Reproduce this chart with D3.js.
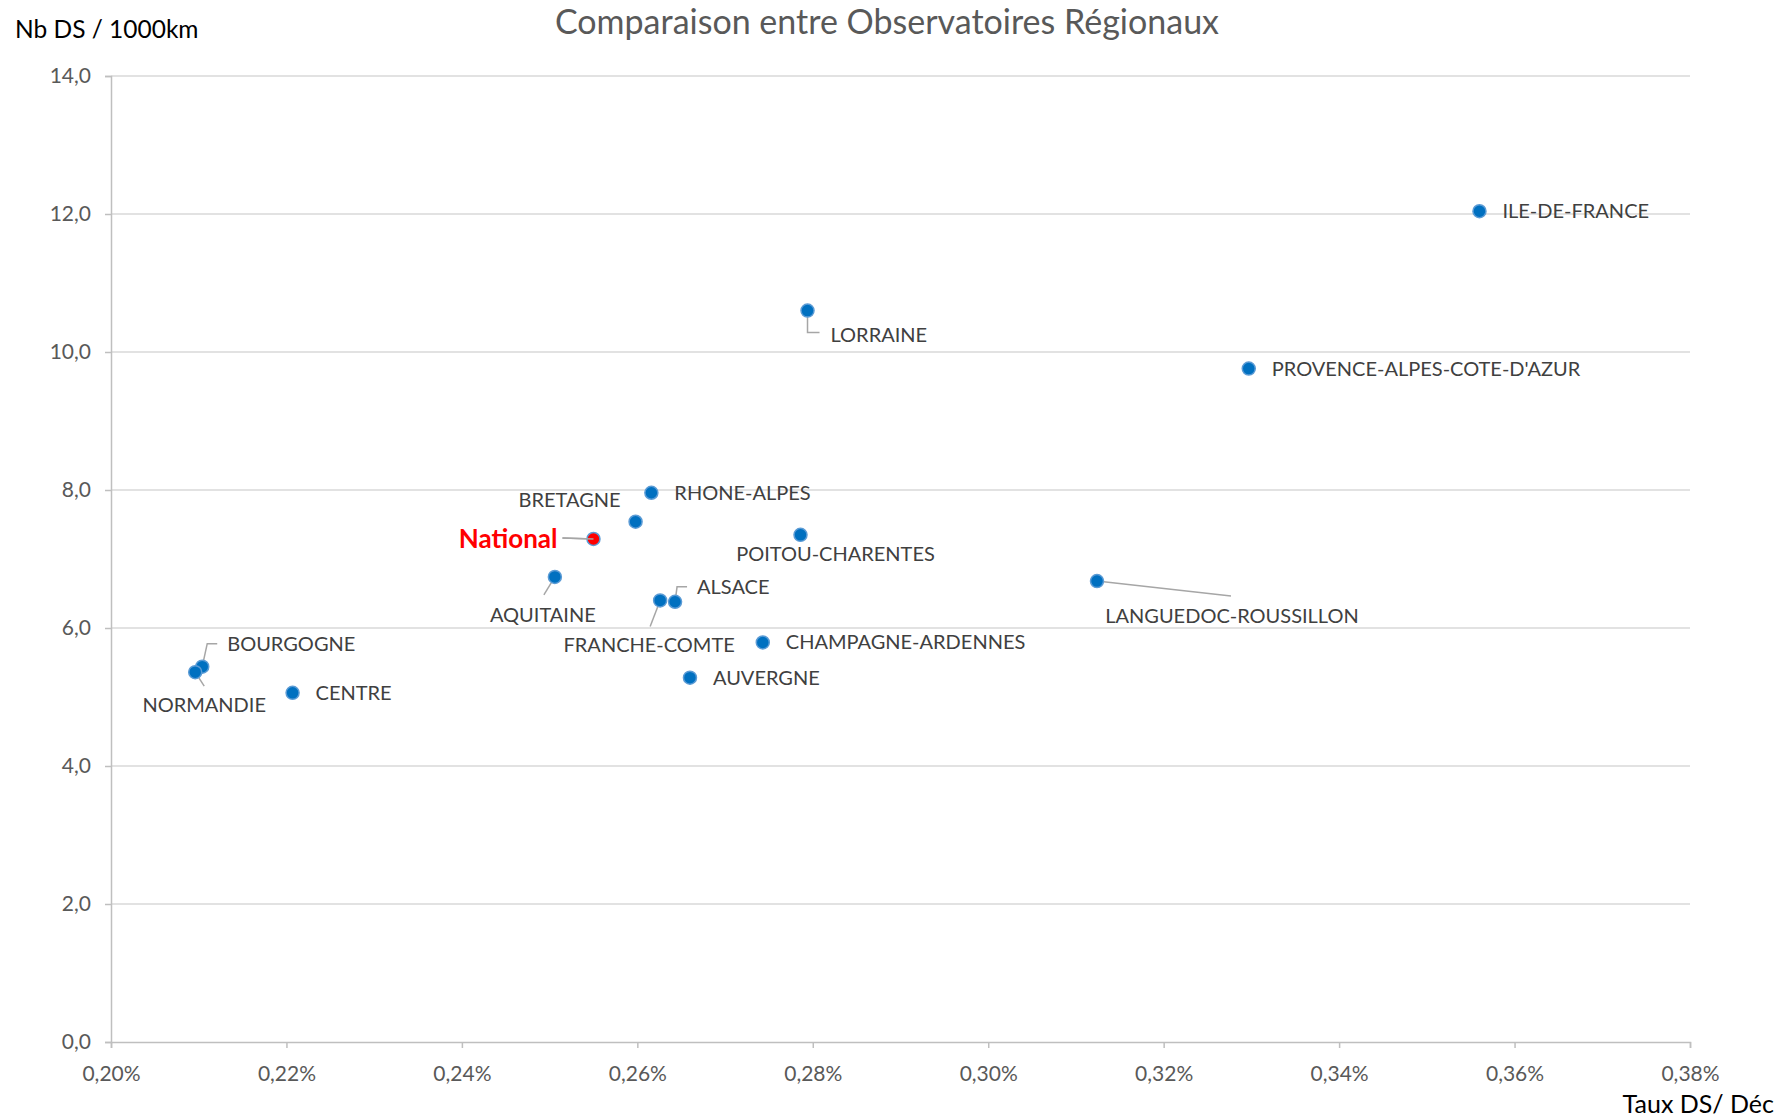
<!DOCTYPE html>
<html>
<head>
<meta charset="utf-8">
<script src="https://cdn.jsdelivr.net/npm/d3@7"></script>
<style>
  body { margin: 0; background: #fff; }
  svg { display: block; font-family: Lato, "Open Sans", sans-serif; }
</style>
</head>
<body>
<svg id="chart" width="1783" height="1117"></svg>
<script>
// data (x = taux en %, y = nb DS / 1000km)
var regions = ["ILE-DE-FRANCE", "LORRAINE", "PROVENCE-ALPES-COTE-D'AZUR", "RHONE-ALPES", "BRETAGNE",
  "National", "POITOU-CHARENTES", "AQUITAINE", "FRANCHE-COMTE", "ALSACE", "LANGUEDOC-ROUSSILLON",
  "CHAMPAGNE-ARDENNES", "AUVERGNE", "BOURGOGNE", "NORMANDIE", "CENTRE"];
var tauxDS = [0.3560, 0.2794, 0.3297, 0.2616, 0.2598, 0.2550, 0.2786, 0.2506, 0.2626, 0.2643, 0.3124,
  0.2743, 0.2660, 0.2104, 0.2096, 0.2207];
var nbDS = [12.04, 10.60, 9.76, 7.96, 7.54, 7.29, 7.35, 6.74, 6.40, 6.38, 6.68, 5.79, 5.28, 5.44, 5.36, 5.06];
var xTicks = [0.20, 0.22, 0.24, 0.26, 0.28, 0.30, 0.32, 0.34, 0.36, 0.38];
var yTicks = [0, 2, 4, 6, 8, 10, 12, 14];

// label placement (pixels, relative to the point)
var labelPos = {
  "LORRAINE": { dx: 23, dy: 24, anchor: "start", leader: [[0, 0], [0, 22], [12, 22]] },
  "BRETAGNE": { dx: -15, dy: -22, anchor: "end" },
  "National": { dx: -36, dy: 0, anchor: "end", leader: [[-31, -1], [0, 0]] },
  "POITOU-CHARENTES": { dx: 35, dy: 19, anchor: "middle" },
  "AQUITAINE": { dx: -12, dy: 38, anchor: "middle", leader: [[0, 0], [-11, 18]] },
  "FRANCHE-COMTE": { dx: -11, dy: 45, anchor: "middle", leader: [[0, 0], [-10, 26]] },
  "ALSACE": { dx: 22, dy: -15, anchor: "start", leader: [[0, 0], [2, -15], [12, -15]] },
  "LANGUEDOC-ROUSSILLON": { dx: 135, dy: 35, anchor: "middle", leader: [[0, 0], [134, 15]] },
  "BOURGOGNE": { dx: 25, dy: -23, anchor: "start", leader: [[0, 0], [5, -23], [15, -23]] },
  "NORMANDIE": { dx: 9, dy: 33, anchor: "middle", leader: [[0, 0], [9, 14]] }
};

var svg = d3.select("#chart");
var margin = { top: 76, left: 111, right: 93, bottom: 75 };
var width = 1783 - margin.left - margin.right,
    height = 1117 - margin.top - margin.bottom;

var x = d3.scaleLinear().domain([0.20, 0.38]).range([0, width]);
var y = d3.scaleLinear().domain([0, 14]).range([height, 0]);

var g = svg.append("g").attr("transform", "translate(" + margin.left + "," + margin.top + ")");

// gridlines
g.selectAll(".grid").data(yTicks.slice(1)).enter().append("line")
    .attr("x1", 0).attr("x2", width)
    .attr("y1", y).attr("y2", y)
    .attr("stroke", "#d9d9d9").attr("stroke-width", 1.5);

var fr = d3.formatLocale({ decimal: ",", thousands: " ", grouping: [3], currency: ["", "€"] });
var fmtY = fr.format(".1f");
var fmtX = function(d) { return fr.format(".2f")(d) + "%"; };

var xAxis = g.append("g").attr("transform", "translate(0," + height + ")")
    .call(d3.axisBottom(x).tickValues(xTicks).tickFormat(fmtX).tickSize(6).tickPadding(11));
var yAxis = g.append("g")
    .call(d3.axisLeft(y).tickValues(yTicks).tickFormat(fmtY).tickSize(6).tickPadding(14));

[xAxis, yAxis].forEach(function(a) {
  a.select(".domain").attr("stroke", "#bfbfbf").attr("stroke-width", 1.5);
  a.selectAll(".tick line").attr("stroke", "#bfbfbf").attr("stroke-width", 1.5);
  a.selectAll(".tick text").attr("fill", "#595959").style("font-size", "21px").style("font-family", "Lato, sans-serif");
});
xAxis.selectAll(".tick text").attr("dy", "1.05em");

var pts = regions.map(function(r, i) { return { name: r, x: tauxDS[i], y: nbDS[i] }; });

// leader lines
pts.forEach(function(p) {
  var lp = labelPos[p.name];
  if (lp && lp.leader) {
    g.append("path")
        .attr("d", d3.line()(lp.leader.map(function(c) { return [x(p.x) + c[0], y(p.y) + c[1]]; })))
        .attr("fill", "none").attr("stroke", "#a6a6a6").attr("stroke-width", 1.5);
  }
});

// points
g.selectAll(".pt").data(pts).enter().append("circle")
    .attr("cx", function(d) { return x(d.x); })
    .attr("cy", function(d) { return y(d.y); })
    .attr("r", 6.5)
    .attr("fill", function(d) { return d.name == "National" ? "#ff0000" : "#0070c0"; })
    .attr("stroke", "#5b9bd5").attr("stroke-width", 1.5);

// redraw the leader end over the national point
var nat = pts.filter(function(d) { return d.name == "National"; })[0];
g.append("line")
    .attr("x1", x(nat.x) - 31).attr("y1", y(nat.y) - 1)
    .attr("x2", x(nat.x)).attr("y2", y(nat.y))
    .attr("stroke", "#a6a6a6").attr("stroke-width", 1.5);

// labels
g.selectAll(".lbl").data(pts).enter().append("text")
    .attr("x", function(d) { var lp = labelPos[d.name]; return x(d.x) + (lp ? lp.dx : 23); })
    .attr("y", function(d) { var lp = labelPos[d.name]; return y(d.y) + (lp ? lp.dy : 0); })
    .attr("dy", "0.35em")
    .attr("text-anchor", function(d) { var lp = labelPos[d.name]; return lp ? lp.anchor : "start"; })
    .attr("fill", function(d) { return d.name == "National" ? "#ff0000" : "#404040"; })
    .style("font-size", function(d) { return d.name == "National" ? "26px" : "20px"; })
    .style("font-weight", function(d) { return d.name == "National" ? "bold" : "normal"; })
    .text(function(d) { return d.name; });

// titles
svg.append("text").attr("x", 887).attr("y", 34).attr("text-anchor", "middle")
    .attr("fill", "#595959").style("font-size", "34px")
    .text("Comparaison entre Observatoires Régionaux");
svg.append("text").attr("x", 15).attr("y", 38)
    .attr("fill", "#000").style("font-size", "24.5px")
    .text("Nb DS / 1000km");
svg.append("text").attr("x", 1774).attr("y", 1113).attr("text-anchor", "end")
    .attr("fill", "#000").style("font-size", "25px")
    .text("Taux DS/ Déc");
</script>
</body>
</html>
